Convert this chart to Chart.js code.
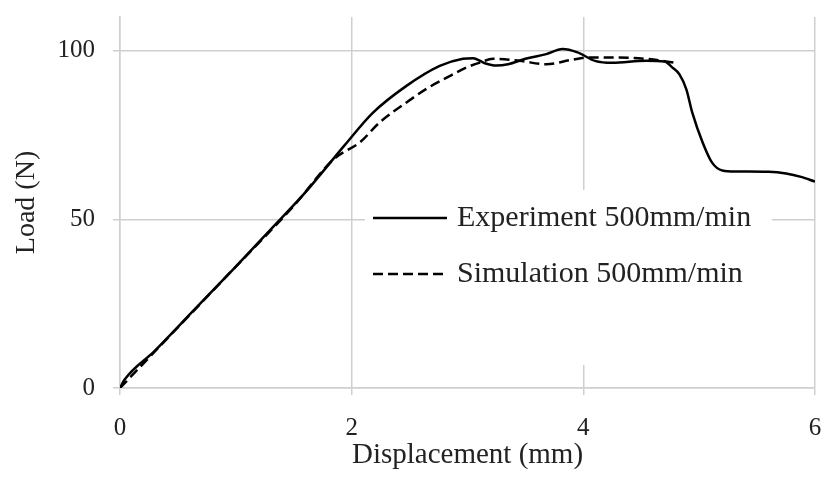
<!DOCTYPE html>
<html>
<head>
<meta charset="utf-8">
<script src="https://cdn.jsdelivr.net/npm/chart.js@4"></script>
<style>
  html, body { margin:0; padding:0; background:#fff; }
  #wrap { width:823px; height:479px; }
</style>
</head>
<body>
<div id="wrap"><canvas id="c" width="823" height="479"></canvas></div>
<script>
// values
var expX = [0, 0.04, 0.3, 0.65, 1.0, 1.3, 1.6, 1.94, 2.18, 2.47, 2.76, 2.96, 3.05, 3.15, 3.25, 3.35, 3.5, 3.68, 3.82, 3.95, 4.1, 4.25, 4.54, 4.7, 4.77, 4.83, 4.89, 4.94, 5.03, 5.11, 5.2, 5.32, 5.6, 5.75, 5.88, 6.0];
var expY = [0, 2.5, 11, 23.5, 36, 47, 58, 72, 81.5, 89.5, 95.5, 97.6, 97.8, 96.3, 95.6, 96, 97.6, 99, 100.5, 99.5, 97, 96.4, 97, 96.8, 95, 93, 88.5, 81.7, 72.8, 66.9, 64.5, 64.2, 64.1, 63.6, 62.6, 61.2];
var simX = [0, 0.5, 1.0, 1.5, 1.85, 2.07, 2.24, 2.47, 2.65, 2.82, 2.99, 3.1, 3.22, 3.45, 3.68, 3.9, 4.05, 4.25, 4.54, 4.8];
var simY = [0, 18, 36, 54, 68, 72.8, 78.7, 84.6, 88.8, 92, 95, 96.4, 97.6, 97, 96, 97.3, 98, 98, 97.6, 96.4];
var xTicks = [0, 2, 4, 6];
var yTicks = [0, 50, 100];
var seriesNames = ['Experiment 500mm/min', 'Simulation 500mm/min'];

function pts(xs, ys){ return xs.map(function(x,i){ return {x:x, y:ys[i]}; }); }
function noPad(s){ s.paddingTop = 0; s.paddingBottom = 0; s.paddingLeft = 0; s.paddingRight = 0; }

var GRID = '#cfcfcf';
var SERIF = "'Liberation Serif', 'Times New Roman', serif";

var legendBox = {
  id:'legendBox',
  beforeDatasetsDraw:function(chart){
    var ctx = chart.ctx, a = chart.chartArea;
    ctx.save();
    ctx.fillStyle = '#fff';
    ctx.fillRect(a.left+245, a.top+173, 407, 175);
    var x0 = a.left+253, x1 = a.left+327, rows = [a.top+201, a.top+257];
    ctx.strokeStyle = '#000'; ctx.lineWidth = 2.5;
    rows.forEach(function(y, i){
      ctx.setLineDash(i ? [10,5] : []);
      ctx.beginPath(); ctx.moveTo(x0, y); ctx.lineTo(x1, y); ctx.stroke();
      ctx.setLineDash([]);
      ctx.fillStyle = '#222';
      ctx.font = '30px ' + SERIF;
      ctx.textBaseline = 'middle';
      ctx.fillText(seriesNames[i], x1+10, y);
    });
    ctx.restore();
  }
};

new Chart(document.getElementById('c'), {
  type:'line',
  data:{ datasets:[
    {label:seriesNames[0], data:pts(expX, expY), borderColor:'#000', borderWidth:2.5, pointRadius:0, cubicInterpolationMode:'monotone'},
    {label:seriesNames[1], data:pts(simX, simY), borderColor:'#000', borderWidth:2.5, borderDash:[10,5], pointRadius:0, cubicInterpolationMode:'monotone'}
  ]},
  options:{
    responsive:false, animation:false,
    layout:{ padding:{ top:17, right:8, left:0, bottom:0 } },
    plugins:{ legend:{display:false}, tooltip:{enabled:false} },
    scales:{
      x:{
        type:'linear', min:0, max:6,
        afterBuildTicks:function(s){ s.ticks = xTicks.map(function(v){ return {value:v}; }); },
        afterFit:function(s){ s.height = 91; noPad(s); },
        ticks:{ font:{family:SERIF, size:25}, color:'#222', padding:18 },
        grid:{ color:GRID, lineWidth:1.5, tickLength:7 },
        border:{ color:GRID, width:1.5 },
        title:{ display:true, text:'Displacement (mm)', font:{family:SERIF, size:29}, color:'#222', padding:{top:0, bottom:6} }
      },
      y:{
        min:0, max:110,
        afterBuildTicks:function(s){ s.ticks = yTicks.map(function(v){ return {value:v}; }); },
        afterFit:function(s){ s.width = 120; noPad(s); },
        ticks:{ font:{family:SERIF, size:25}, color:'#222', padding:18 },
        grid:{ color:GRID, lineWidth:1.5, tickLength:7 },
        border:{ color:GRID, width:1.5 },
        title:{ display:true, text:'Load (N)', font:{family:SERIF, size:28}, color:'#222', padding:{top:10, bottom:0} }
      }
    }
  },
  plugins:[legendBox]
});
</script>
</body>
</html>
